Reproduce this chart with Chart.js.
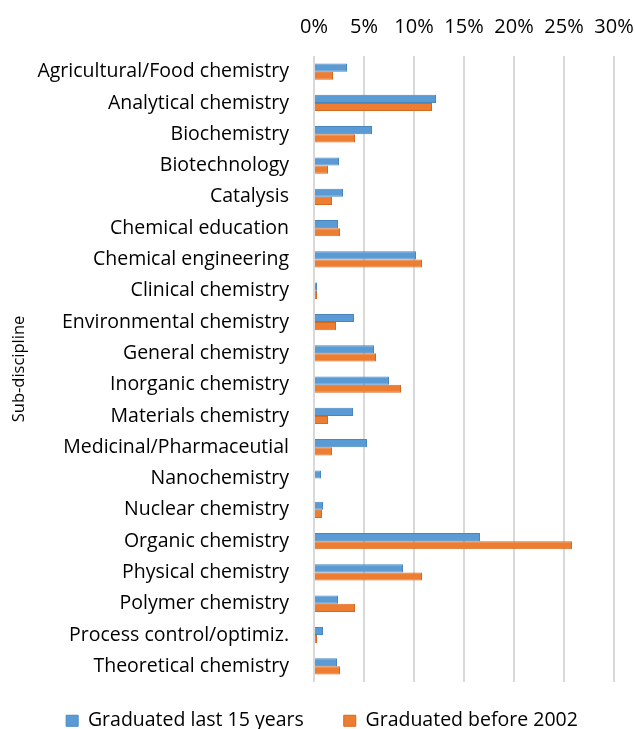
<!DOCTYPE html>
<html>
<head>
<meta charset="utf-8">
<script src="https://cdn.jsdelivr.net/npm/chart.js@4"></script>
<style>
  html, body { margin: 0; padding: 0; background: #fff; }
  #wrap { width: 635px; height: 729px; }
</style>
</head>
<body>
<div id="wrap"><canvas id="chart"></canvas></div>
<script>
const categories = [
  'Agricultural/Food chemistry', 'Analytical chemistry', 'Biochemistry', 'Biotechnology',
  'Catalysis', 'Chemical education', 'Chemical engineering', 'Clinical chemistry',
  'Environmental chemistry', 'General chemistry', 'Inorganic chemistry', 'Materials chemistry',
  'Medicinal/Pharmaceutial', 'Nanochemistry', 'Nuclear chemistry', 'Organic chemistry',
  'Physical chemistry', 'Polymer chemistry', 'Process control/optimiz.', 'Theoretical chemistry'
];
const recentGrads = [3.3, 12.2, 5.8, 2.5, 2.9, 2.4, 10.2, 0.3, 4.0, 6.0, 7.5, 3.9, 5.3, 0.7, 0.9, 16.6, 8.9, 2.4, 0.9, 2.3];
const earlyGrads = [1.9, 11.8, 4.1, 1.4, 1.8, 2.6, 10.8, 0.3, 2.2, 6.2, 8.7, 1.4, 1.8, 0, 0.8, 25.8, 10.8, 4.1, 0.3, 2.6];
const xTicks = [0, 5, 10, 15, 20, 25, 30];

const font = 'Open Sans';

// legend padding is also the gap between items; pull it back up so the gap can stay wide
const liftLegend = {
  id: 'liftLegend',
  afterLayout(chart) {
    chart.legend.top -= 11;
    chart.legend.bottom -= 11;
  }
};

const ctx = document.getElementById('chart').getContext('2d');
const chart = new Chart(ctx, {
  type: 'bar',
  data: {
    labels: categories,
    datasets: [{
      label: 'Graduated last 15 years',
      data: recentGrads,
      backgroundColor: '#5B9BD5',
      borderColor: '#4A86BE',
      borderWidth: 1,
      categoryPercentage: 0.52,
      barPercentage: 1
    }, {
      label: 'Graduated before 2002',
      data: earlyGrads,
      backgroundColor: '#ED7D31',
      borderColor: '#D46A22',
      borderWidth: 1,
      categoryPercentage: 0.52,
      barPercentage: 1
    }]
  },
  options: {
    indexAxis: 'y',
    responsive: true,
    maintainAspectRatio: false,
    animation: false,
    layout: { padding: { top: 4, right: 0, bottom: -22.5, left: 9 } },
    plugins: {
      tooltip: { enabled: false },
      legend: {
        position: 'bottom',
        labels: {
          color: '#000',
          font: { family: font, size: 19.5 },
          boxWidth: 12,
          boxHeight: 11,
          padding: 40
        }
      }
    },
    scales: {
      x: {
        position: 'top',
        min: 0,
        max: 30,
        afterBuildTicks: scale => { scale.ticks = xTicks.map(v => ({ value: v })); },
        afterFit: scale => {
          scale.height = 52;
          scale.paddingLeft = 0;
          scale.paddingRight = 21;
        },
        ticks: {
          color: '#000',
          font: { family: font, size: 20 },
          padding: 17,
          callback: v => v + '%'
        },
        grid: { color: '#D9D9D9', lineWidth: 2, drawTicks: false },
        border: { display: false }
      },
      y: {
        afterFit: scale => { scale.width = 305; },
        ticks: {
          color: '#000',
          font: { family: font, size: 19.5 },
          padding: 25
        },
        grid: { display: false, drawTicks: false },
        border: { display: false },
        title: {
          display: true,
          text: 'Sub-discipline',
          color: '#000',
          font: { family: font, size: 16.5 },
          padding: 0
        }
      }
    }
  },
  plugins: [liftLegend]
});
</script>
</body>
</html>
